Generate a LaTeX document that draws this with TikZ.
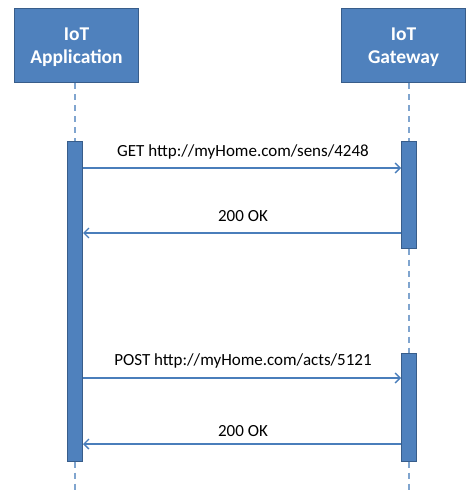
\documentclass[tikz,border=0pt]{standalone}
\usepackage{fontspec}
\setmainfont{Carlito}
\usetikzlibrary{arrows.meta}
\definecolor{fillb}{HTML}{4F81BD}
\definecolor{edgeb}{HTML}{385D8A}
\definecolor{lineb}{HTML}{4A7EBB}
\begin{document}
\begin{tikzpicture}[x=1pt,y=-1pt,
  actor/.style={draw=edgeb,fill=fillb,line width=1.5pt,text=white,font=\fontsize{19.5}{23}\selectfont\bfseries,align=center,minimum width=124pt,minimum height=74pt,inner sep=0pt},
  bar/.style={draw=edgeb,fill=fillb,line width=1pt,minimum width=15pt,inner sep=0pt},
  life/.style={draw=lineb!70,line width=1.5pt,dash pattern=on 6pt off 5pt},
  msg/.style={draw=lineb,line width=1.3pt,-{Straight Barb[length=5pt,width=10pt,line width=1.3pt]}},
  lbl/.style={font=\fontsize{17}{20}\selectfont,text=black,inner sep=0pt}]
\useasboundingbox (0,0) rectangle (465,494);
\node[actor] (app) at (76.5,45.5) {};
\node[actor] (gw) at (403.5,45.5) {};
\node[text=white,font=\fontsize{19.5}{23}\selectfont\bfseries,align=center,inner sep=0pt] (appt) at (76.5,47.5) {IoT\\Application};
\node[text=white,font=\fontsize{19.5}{23}\selectfont\bfseries,align=center,inner sep=0pt] (gwt) at (403.5,47.5) {IoT\\Gateway};
\node[bar,minimum height=319pt] (abar) at (75,301.5) {};
\node[bar,minimum height=106pt] (gbar1) at (409,195) {};
\node[bar,minimum height=108pt] (gbar2) at (409,407) {};
\coordinate (aend) at (75,494);
\coordinate (gend) at (409,494);
\draw[life] (app.south -| abar.north) -- (abar.north);
\draw[life] (abar.south) -- (aend);
\draw[life] (gw.south -| gbar1.north) -- (gbar1.north);
\draw[life] (gbar1.south) -- (gbar2.north);
\draw[life] (gbar2.south) -- (gend);
\draw[msg] (abar.east |- 0,168) -- (gbar1.west |- 0,168);
\draw[msg] (gbar1.west |- 0,233) -- (abar.east |- 0,233);
\draw[msg] (abar.east |- 0,378) -- (gbar2.west |- 0,378);
\draw[msg] (gbar2.west |- 0,444) -- (abar.east |- 0,444);
\node[lbl] (l1) at (243,152) {GET http://myHome.com/sens/4248};
\node[lbl] (l2) at (243,216) {200 OK};
\node[lbl] (l3) at (243,361) {POST http://myHome.com/acts/5121};
\node[lbl] (l4) at (243,431) {200 OK};
\end{tikzpicture}
\end{document}
